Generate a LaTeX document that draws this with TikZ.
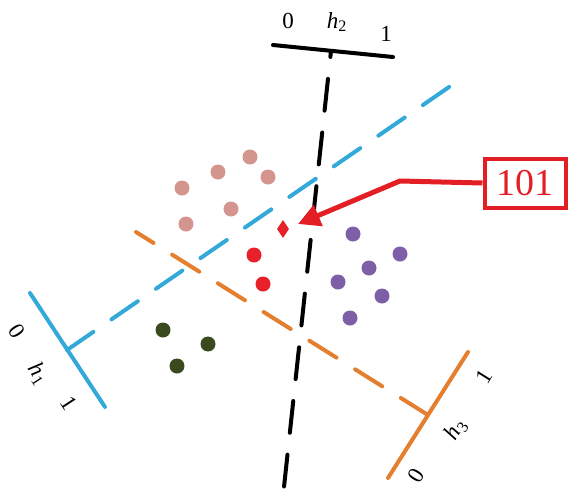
\documentclass[tikz,border=0pt]{standalone}
\usepackage{fontspec}
\setmainfont{Liberation Serif}
\usetikzlibrary{arrows.meta,shapes.geometric}
\definecolor{hblue}{HTML}{32A9D8}
\definecolor{horange}{HTML}{E47F2F}
\definecolor{hred}{HTML}{E31E25}
\definecolor{dpink}{HTML}{D4958F}
\definecolor{dred}{HTML}{E8202A}
\definecolor{dpurple}{HTML}{7D5FA8}
\definecolor{dgreen}{HTML}{3B4A1E}
\newcommand{\hname}[1]{\textit{h}\textsubscript{#1}}
\tikzset{
  bar/.style={line width=4pt,line cap=round},
  cut/.style={line width=4pt,line cap=round,dash pattern=on 32pt off 22pt},
  dot/.style={circle,inner sep=0pt,minimum size=15pt},
  lab/.style={font=\fontsize{23}{23}\selectfont,inner sep=0pt},
}
\begin{document}
\begin{tikzpicture}[x=1pt,y=-1pt]
\useasboundingbox (0,0) rectangle (574,491);
% hyperplane h1
\coordinate (a0) at (30,293);
\coordinate (a1) at (105,407);
\coordinate (ac) at (67,350);
\coordinate (ae) at (452,85);
\draw[bar,hblue] (a0) -- (a1);
\draw[cut,hblue] (ac) -- (ae);
\node[lab,rotate=-57] (a0l) at (17,331) {0};
\node[lab,rotate=-57] (ahl) at (38,374) {\hname{1}};
\node[lab,rotate=-57] (a1l) at (69,403) {1};
% hyperplane h2
\coordinate (b0) at (273,45);
\coordinate (b1) at (393,57);
\coordinate (bc) at (331,51);
\coordinate (be) at (284,487);
\draw[bar,black] (b0) -- (b1);
\draw[cut,black,dash phase=26pt] (bc) -- (be);
\node[lab] (b0l) at (288,21) {0};
\node[lab] (bhl) at (337,22) {\hname{2}};
\node[lab] (b1l) at (386,34) {1};
% hyperplane h3
\coordinate (c0) at (388,478);
\coordinate (c1) at (468,352);
\coordinate (cc) at (428,415);
\coordinate (ce) at (136,232);
\draw[bar,horange] (c0) -- (c1);
\draw[cut,horange] (cc) -- (ce);
\node[lab,rotate=58] (c0l) at (416,476) {0};
\node[lab,rotate=58] (chl) at (456,430) {\hname{3}};
\node[lab,rotate=58] (c1l) at (484,377) {1};
% points
\node[dot,fill=dpink] (p1) at (182,188) {};
\node[dot,fill=dpink] (p2) at (218,172) {};
\node[dot,fill=dpink] (p3) at (250,157) {};
\node[dot,fill=dpink] (p4) at (268,177) {};
\node[dot,fill=dpink] (p5) at (186,224) {};
\node[dot,fill=dpink] (p6) at (231,209) {};
\node[dot,fill=dred] (r1) at (254,255) {};
\node[dot,fill=dred] (r2) at (263,284) {};
\node[diamond,fill=dred,inner sep=0pt,minimum width=12pt,minimum height=18pt] (q) at (283,229) {};
\node[dot,fill=dpurple] (u1) at (353,234) {};
\node[dot,fill=dpurple] (u2) at (400,254) {};
\node[dot,fill=dpurple] (u3) at (369,268) {};
\node[dot,fill=dpurple] (u4) at (338,282) {};
\node[dot,fill=dpurple] (u5) at (382,296) {};
\node[dot,fill=dpurple] (u6) at (350,318) {};
\node[dot,fill=dgreen] (g1) at (163,330) {};
\node[dot,fill=dgreen] (g2) at (208,344) {};
\node[dot,fill=dgreen] (g3) at (177,366) {};
% label box and pointer
\node[draw=hred,line width=4pt,minimum width=81pt,minimum height=49pt,inner sep=0pt,text=hred,font=\fontsize{38}{38}\selectfont] (lbl) at (525,183) {101};
\coordinate (bend) at (400,181);
\coordinate (tip) at (298,224);
\draw[hred,line width=5pt,-{Triangle[length=22pt,width=22pt]}] (lbl.west) -- (bend) -- (tip);
\end{tikzpicture}
\end{document}
